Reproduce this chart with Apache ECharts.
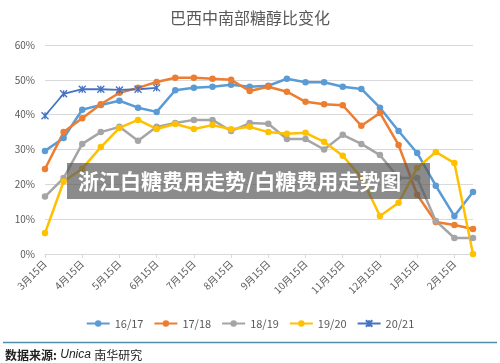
<!DOCTYPE html>
<html>
<head>
<meta charset="utf-8">
<script src="https://cdn.jsdelivr.net/npm/echarts@6/dist/echarts.min.js"></script>
<style>
html,body{margin:0;padding:0;background:#fff;}
#c{width:500px;height:363px;}
</style>
</head>
<body>
<div id="c"></div>
<script>
const categories = ["3月15日","4月1日","4月15日","5月1日","5月15日","6月1日","6月15日","7月1日","7月15日","8月1日","8月15日","9月1日","9月15日","10月1日","10月15日","11月1日","11月15日","12月1日","12月15日","1月1日","1月15日","2月1日","2月15日","3月1日"];
const s1617 = [29.6,33.3,41.4,42.8,44.0,42.0,40.8,47.0,47.7,48.0,48.6,48.0,48.3,50.3,49.3,49.3,48.0,47.4,42.0,35.3,29.0,19.6,10.9,17.8];
const s1718 = [24.4,35.0,39.0,43.0,46.3,47.7,49.4,50.6,50.6,50.3,50.0,46.8,48.0,46.6,43.7,43.0,42.7,36.8,40.5,31.3,17.0,9.2,8.3,7.2];
const s1819 = [16.5,21.8,31.6,35.0,36.5,32.5,36.5,37.6,38.5,38.5,35.3,37.6,37.4,33.0,33.0,30.0,34.2,31.6,28.4,21.8,21.8,9.5,4.6,4.6];
const s1920 = [6.0,20.8,24.5,30.7,36.2,38.5,35.9,37.3,35.9,37.0,35.8,36.5,35.0,34.5,34.8,32.2,28.2,22.0,10.9,14.7,24.7,29.3,26.1,0.0];
const s2021 = [39.7,46.0,47.3,47.3,47.1,47.3,47.7,null,null,null,null,null,null,null,null,null,null,null,null,null,null,null,null,null];
const seriesNames = ["16/17","17/18","18/19","19/20","20/21"];
const yTicks = [0,10,20,30,40,50,60];

const colors = ['#5B9BD5','#ED7D31','#A5A5A5','#FFC000','#4472C4'];
const dataSets = [s1617,s1718,s1819,s1920,s2021];
const textColor = '#595959';
const font = '"Noto Sans CJK SC", "Noto Sans", sans-serif';

const chart = echarts.init(document.getElementById('c'), null, {renderer:'canvas'});
const series = dataSets.map((d,i)=>{
  const isX = i===4;
  return {
    name: seriesNames[i],
    type: 'line',
    data: d,
    connectNulls: false,
    symbol: isX ? 'path://M0,0L10,10M10,0L0,10M5,0L5,10' : 'circle',
    symbolSize: isX ? 7 : 6.5,
    showSymbol: true,
    lineStyle: {color: colors[i], width: isX ? 1.8 : 2.5},
    itemStyle: isX ? {color: colors[i], borderColor: colors[i], borderWidth: 1.3} : {color: colors[i], borderWidth: 0},
    emphasis: {disabled: true},
    animation: false
  };
});

chart.setOption({
  animation: false,
  textStyle: {fontFamily: font},
  title: {
    text: '巴西中南部糖醇比变化',
    left: 'center',
    top: 5,
    textStyle: {fontSize: 16, fontWeight: 'normal', color: textColor, fontFamily: font}
  },
  grid: {left: 45, right: 27, top: 45, bottom: 109, containLabel: false},
  xAxis: {
    type: 'category',
    data: categories,
    boundaryGap: false,
    axisLine: {show: true, lineStyle: {color: '#D9D9D9', width: 1}},
    axisTick: {show: true, interval: 1, length: 4, lineStyle: {color: '#D9D9D9'}},
    axisLabel: {interval: 1, rotate: 45, margin: 8, fontSize: 10, color: textColor, fontFamily: font},
    splitLine: {show: false}
  },
  yAxis: {
    type: 'value',
    min: yTicks[0],
    max: yTicks[yTicks.length-1],
    interval: 10,
    axisLine: {show: false},
    axisTick: {show: false},
    axisLabel: {formatter: '{value}%', fontSize: 10, color: textColor, margin: 10, fontFamily: font},
    splitLine: {lineStyle: {color: '#D9D9D9', width: 1}}
  },
  legend: {
    data: seriesNames,
    left: 'center',
    top: 313,
    itemWidth: 23,
    itemHeight: 8,
    itemGap: 10,
    textStyle: {fontSize: 11, color: textColor, fontFamily: font}
  },
  series: series,
  graphic: [
    {type: 'rect', shape: {x: 67, y: 163, width: 363, height: 36}, style: {fill: 'rgba(90,90,90,0.7)'}, z: 100},
    {type: 'text', x: 78, y: 181, style: {text: '浙江白糖费用走势/白糖费用走势图', fill: '#ffffff', font: 'bold 21px "Noto Sans CJK SC", sans-serif', textVerticalAlign: 'middle'}, z: 101},
    {type: 'line', shape: {x1: 3, y1: 342.5, x2: 497, y2: 342.5}, style: {stroke: '#4f8fa8', lineWidth: 1.5}, z: 100},
    {type: 'text', x: 5, y: 355, style: {
      text: '{a|数据来源:} {b|Unica} {c|南华研究}',
      textVerticalAlign: 'middle',
      rich: {
        a: {fontSize: 12, fontWeight: 'bold', fill: '#222', fontFamily: font},
        b: {fontSize: 12, fontStyle: 'italic', fill: '#222', fontFamily: '"Liberation Sans", Arial, sans-serif'},
        c: {fontSize: 12, fill: '#222', fontFamily: font}
      }
    }, z: 100}
  ]
});
</script>
</body>
</html>
